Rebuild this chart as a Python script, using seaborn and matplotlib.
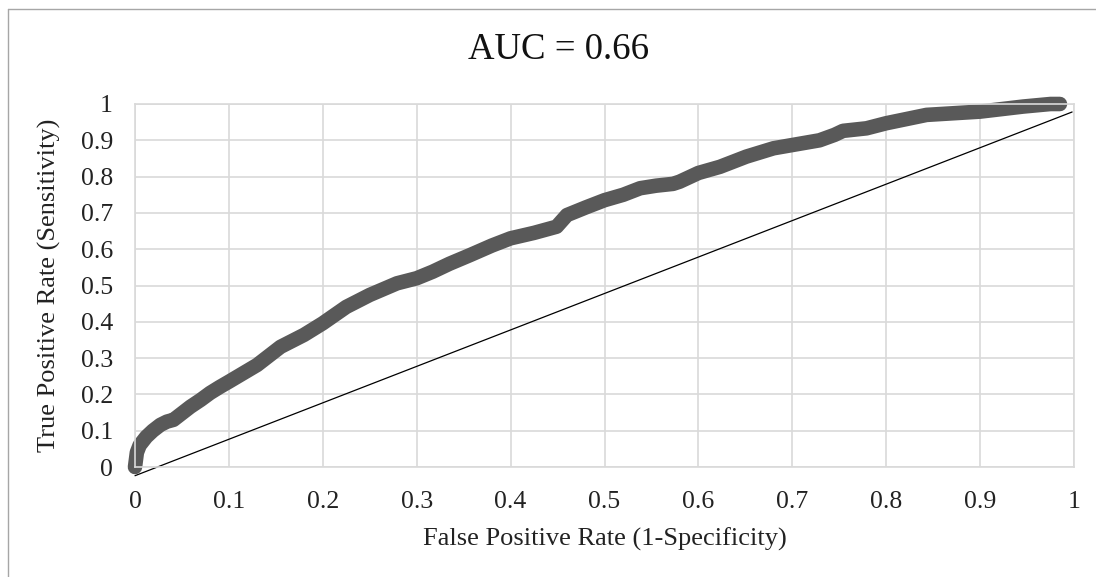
import matplotlib
matplotlib.use("Agg")
import matplotlib.pyplot as plt
from matplotlib.lines import Line2D
import seaborn as sns
import pandas as pd

# ROC curve points (False Positive Rate, True Positive Rate)
fpr = [0, 0.002, 0.005, 0.012, 0.019, 0.027, 0.034, 0.041, 0.05, 0.059, 0.07,
       0.08, 0.09, 0.1, 0.115, 0.13, 0.155, 0.18, 0.2, 0.225, 0.25, 0.279, 0.3,
       0.317, 0.335, 0.357, 0.38, 0.4, 0.425, 0.449, 0.46, 0.48, 0.5, 0.52,
       0.538, 0.555, 0.573, 0.58, 0.6, 0.623, 0.651, 0.68, 0.7, 0.729, 0.745,
       0.754, 0.779, 0.8, 0.843, 0.9, 0.946, 0.975, 0.985]
tpr = [0, 0.04, 0.06, 0.083, 0.1, 0.116, 0.125, 0.13, 0.148, 0.166, 0.185,
       0.204, 0.22, 0.235, 0.258, 0.281, 0.331, 0.364, 0.396, 0.441, 0.474,
       0.506, 0.52, 0.538, 0.56, 0.584, 0.61, 0.63, 0.645, 0.662, 0.694, 0.715,
       0.735, 0.75, 0.768, 0.775, 0.78, 0.786, 0.81, 0.827, 0.855, 0.878,
       0.887, 0.9, 0.915, 0.926, 0.933, 0.947, 0.97, 0.979, 0.993, 1.0, 1.0]

# Reference (chance) line
diag_x = [0, 0.998]
diag_y = [-0.024, 0.978]

tick_vals = [0, 0.1, 0.2, 0.3, 0.4, 0.5, 0.6, 0.7, 0.8, 0.9, 1]
tick_labels = ["0", "0.1", "0.2", "0.3", "0.4", "0.5", "0.6", "0.7", "0.8", "0.9", "1"]

title = "AUC = 0.66"
xlabel = "False Positive Rate (1-Specificity)"
ylabel = "True Positive Rate (Sensitivity)"

sns.set_theme(style="white")
plt.rcParams["font.family"] = ["Liberation Serif", "DejaVu Serif"]

df = pd.DataFrame({"fpr": fpr, "tpr": tpr})
ddf = pd.DataFrame({"x": diag_x, "y": diag_y})

fig = plt.figure(figsize=(10.96, 5.77), dpi=100)
ax = fig.add_axes([135 / 1096, 1 - 467 / 577, (1074 - 135) / 1096, (467 - 104) / 577])

grid_c = "#d9d9d9"
ax.set_xlim(0, 1)
ax.set_ylim(0, 1)
ax.set_xticks(tick_vals)
ax.set_xticklabels(tick_labels)
ax.set_yticks(tick_vals)
ax.set_yticklabels(tick_labels)
ax.grid(True, color=grid_c, linewidth=1.2)
ax.set_axisbelow(True)
for s in ax.spines.values():
    s.set_color(grid_c)
    s.set_linewidth(1.2)
ax.tick_params(axis="both", length=0, labelsize=18.5, colors="#222222")
ax.tick_params(axis="x", pad=17)
ax.tick_params(axis="y", pad=16)

sns.lineplot(data=ddf, x="x", y="y", ax=ax, color="black", linewidth=0.9,
             estimator=None, sort=False, clip_on=False)
sns.lineplot(data=df, x="fpr", y="tpr", ax=ax, color="#595959", linewidth=10.5,
             estimator=None, sort=False, clip_on=False,
             solid_capstyle="round", solid_joinstyle="round")

ax.set_xlabel(xlabel, fontsize=19, color="#222222", labelpad=11)
ax.set_ylabel(ylabel, fontsize=19, color="#222222", labelpad=14)
fig.text(559 / 1096, 1 - 50 / 577, title, fontsize=26.5, ha="center", va="center",
         color="#111111")

# outer chart border (top and left visible)
border_c = "#a6a6a6"
fig.add_artist(Line2D([8 / 1096, 1.0], [1 - 8.5 / 577, 1 - 8.5 / 577],
                      transform=fig.transFigure, color=border_c, linewidth=1))
fig.add_artist(Line2D([8 / 1096, 8 / 1096], [0.0, 1 - 8.5 / 577],
                      transform=fig.transFigure, color=border_c, linewidth=1))

fig.savefig("out.png", dpi=100)
